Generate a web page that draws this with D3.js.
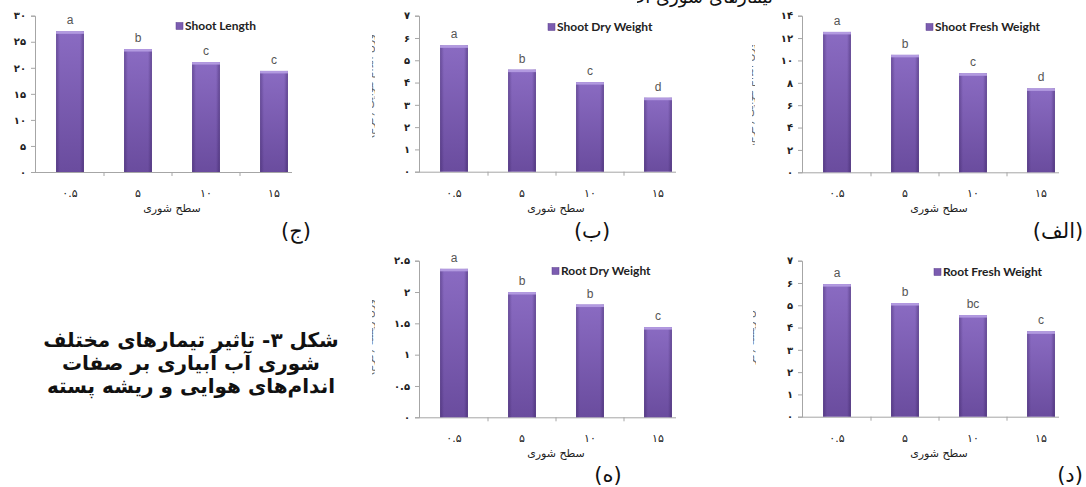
<!DOCTYPE html>
<html>
<head>
<meta charset="utf-8">
<script src="https://cdn.jsdelivr.net/npm/d3@7"></script>
<style>
  html, body { margin: 0; padding: 0; background: #fff; }
  svg { display: block; }
</style>
</head>
<body>
<svg id="fig" width="1086" height="487"></svg>
<script>
// Salinity levels of irrigation water (x categories)
const categories = ["۰.۵", "۵", "۱۰", "۱۵"];

// Shoot fresh weight
const shootFresh = [12.55, 10.5, 8.85, 7.5];
const shootFreshLetters = ["a", "b", "c", "d"];
const shootFreshTicks = [0, 2, 4, 6, 8, 10, 12, 14];

// Shoot dry weight
const shootDry = [5.67, 4.58, 4.02, 3.32];
const shootDryLetters = ["a", "b", "c", "d"];
const shootDryTicks = [0, 1, 2, 3, 4, 5, 6, 7];

// Shoot length
const shootLength = [27.0, 23.6, 21.1, 19.4];
const shootLengthLetters = ["a", "b", "c", "c"];
const shootLengthTicks = [0, 5, 10, 15, 20, 25, 30];

// Root fresh weight
const rootFresh = [5.95, 5.1, 4.56, 3.83];
const rootFreshLetters = ["a", "b", "bc", "c"];
const rootFreshTicks = [0, 1, 2, 3, 4, 5, 6, 7];

// Root dry weight
const rootDry = [2.37, 2.0, 1.8, 1.44];
const rootDryLetters = ["a", "b", "b", "c"];
const rootDryTicks = [0, 0.5, 1, 1.5, 2, 2.5];

const faDigits = "۰۱۲۳۴۵۶۷۸۹";
const toFa = n => String(n).replace(/\d/g, d => faDigits[+d]);

const svg = d3.select("#fig");
const defs = svg.append("defs");

// bar shading: vertical body gradient plus darker side edges
const vg = defs.append("linearGradient").attr("id", "barBody")
  .attr("x1", 0).attr("y1", 0).attr("x2", 0).attr("y2", 1);
vg.append("stop").attr("offset", "0%").attr("stop-color", "#8a6bc2");
vg.append("stop").attr("offset", "100%").attr("stop-color", "#6a4c9e");

const hg = defs.append("linearGradient").attr("id", "barEdge")
  .attr("x1", 0).attr("y1", 0).attr("x2", 1).attr("y2", 0);
hg.append("stop").attr("offset", "0%").attr("stop-color", "#2a1550").attr("stop-opacity", 0.35);
hg.append("stop").attr("offset", "14%").attr("stop-color", "#2a1550").attr("stop-opacity", 0.0);
hg.append("stop").attr("offset", "86%").attr("stop-color", "#2a1550").attr("stop-opacity", 0.0);
hg.append("stop").attr("offset", "100%").attr("stop-color", "#2a1550").attr("stop-opacity", 0.4);

const panels = [
  { values: shootLength, letters: shootLengthLetters, ticks: shootLengthTicks, name: "Shoot Length",
    x0: 36, yBottom: 172, yTop: 15.7, legendX: 176, legendY: 26, tag: "(ج)", tagX: 296, tagY: 238 },
  { values: shootDry, letters: shootDryLetters, ticks: shootDryTicks, name: "Shoot Dry Weight",
    x0: 420, yBottom: 171.7, yTop: 15.7, legendX: 548, legendY: 27, tag: "(ب)", tagX: 592, tagY: 238,
    cutTitle: { x: 372, y1: 28, y2: 145 } },
  { values: shootFresh, letters: shootFreshLetters, ticks: shootFreshTicks, name: "Shoot Fresh Weight",
    x0: 803, yBottom: 172.3, yTop: 15.7, legendX: 926, legendY: 27, tag: "(الف)", tagX: 1058, tagY: 238,
    cutTitle: { x: 752, y1: 45, y2: 145 } },
  { values: rootDry, letters: rootDryLetters, ticks: rootDryTicks, name: "Root Dry Weight",
    x0: 420, yBottom: 417.3, yTop: 260.7, legendX: 552, legendY: 271, tag: "(ه)", tagX: 608, tagY: 482,
    cutTitle: { x: 372, y1: 300, y2: 375 } },
  { values: rootFresh, letters: rootFreshLetters, ticks: rootFreshTicks, name: "Root Fresh Weight",
    x0: 803, yBottom: 416.7, yTop: 260.7, legendX: 934, legendY: 272, tag: "(د)", tagX: 1070, tagY: 482,
    cutTitle: { x: 753, y1: 310, y2: 365 } }
];

const axisColor = "#a6a6a6";
const faFont = "'DejaVu Sans', sans-serif";

panels.forEach((p, pi) => {
  const g = svg.append("g");
  const step = 68;
  const x = d3.scaleBand()
    .domain(categories)
    .range([p.x0, p.x0 + step * 4])
    .paddingInner(0.59)
    .paddingOuter(0.295);
  const yMax = p.ticks[p.ticks.length - 1];
  const y = d3.scaleLinear().domain([0, yMax]).range([p.yBottom, p.yTop]);
  const axisX = p.x0 - 1;
  const axisEnd = p.x0 + 256;

  // y axis
  const yAxis = d3.axisLeft(y).tickValues(p.ticks).tickSize(4).tickPadding(5).tickFormat(toFa);
  const ya = g.append("g").attr("transform", `translate(${axisX},0)`).call(yAxis);
  ya.select(".domain").attr("stroke", axisColor);
  ya.selectAll(".tick line").attr("stroke", axisColor);
  ya.selectAll(".tick text")
    .attr("fill", "#222").attr("font-family", faFont)
    .attr("font-size", 10).attr("font-weight", "bold")
    .attr("direction", "ltr");

  // x axis line with separators between categories
  g.append("line")
    .attr("x1", axisX).attr("x2", axisEnd)
    .attr("y1", p.yBottom + 0.5).attr("y2", p.yBottom + 0.5)
    .attr("stroke", axisColor);
  g.selectAll(".sep").data(categories.slice(0, 3)).join("line")
    .attr("x1", d => x(d) + x.bandwidth() / 2 + x.step() / 2)
    .attr("x2", d => x(d) + x.bandwidth() / 2 + x.step() / 2)
    .attr("y1", p.yBottom).attr("y2", p.yBottom + 4)
    .attr("stroke", axisColor);

  // x tick labels
  g.selectAll(".xl").data(categories).join("text")
    .attr("x", d => x(d) + x.bandwidth() / 2)
    .attr("y", p.yBottom + 25)
    .attr("text-anchor", "middle")
    .attr("direction", "ltr")
    .attr("font-family", faFont).attr("font-size", 11)
    .attr("fill", "#222")
    .text(d => d);

  // x axis title
  g.append("text")
    .attr("x", p.x0 + 136).attr("y", p.yBottom + 40)
    .attr("text-anchor", "middle")
    .attr("font-family", faFont).attr("font-size", 11)
    .attr("fill", "#222")
    .text("سطح شوری");

  // bars
  const bars = g.selectAll(".bar").data(p.values.map((v, i) => ({ v, c: categories[i], l: p.letters[i] })))
    .join("g");
  bars.append("rect")
    .attr("x", d => x(d.c)).attr("width", x.bandwidth())
    .attr("y", d => y(d.v)).attr("height", d => y(0) - y(d.v))
    .attr("fill", "url(#barBody)");
  bars.append("rect")
    .attr("x", d => x(d.c)).attr("width", x.bandwidth())
    .attr("y", d => y(d.v)).attr("height", d => y(0) - y(d.v))
    .attr("fill", "url(#barEdge)");
  bars.append("rect")
    .attr("x", d => x(d.c)).attr("width", x.bandwidth())
    .attr("y", d => y(d.v)).attr("height", 2.5)
    .attr("fill", "#b29ae0");

  // significance letters
  bars.append("text")
    .attr("x", d => x(d.c) + x.bandwidth() / 2)
    .attr("y", d => y(d.v) - 7)
    .attr("text-anchor", "middle")
    .attr("font-family", "'Liberation Sans', Arial, sans-serif")
    .attr("font-size", 12)
    .attr("fill", "#555")
    .text(d => d.l);

  // legend
  g.append("rect")
    .attr("x", p.legendX).attr("y", p.legendY - 3.5)
    .attr("width", 7).attr("height", 7)
    .attr("fill", "#7b5cb0").attr("stroke", "#5a3f8c").attr("stroke-width", 0.5);
  g.append("text")
    .attr("x", p.legendX + 9).attr("y", p.legendY + 4)
    .attr("font-family", "Lato, 'Open Sans', sans-serif")
    .attr("font-weight", "bold").attr("font-size", 12)
    .attr("fill", "#222")
    .text(p.name);

  // panel tag
  g.append("text")
    .attr("x", p.tagX).attr("y", p.tagY)
    .attr("text-anchor", "middle")
    .attr("direction", "rtl")
    .attr("font-family", "'DejaVu Sans', serif")
    .attr("font-size", 21)
    .attr("fill", "#111")
    .text(p.tag);

  // y-axis title, mostly cut off at the left edge of the panel
  if (p.cutTitle) {
    const cid = "cut" + pi;
    defs.append("clipPath").attr("id", cid).append("rect")
      .attr("x", p.cutTitle.x).attr("y", p.cutTitle.y1)
      .attr("width", 3).attr("height", p.cutTitle.y2 - p.cutTitle.y1);
    g.append("g").attr("clip-path", `url(#${cid})`)
      .append("text")
      .attr("transform", `translate(${p.cutTitle.x + 1},${(p.cutTitle.y1 + p.cutTitle.y2) / 2}) rotate(-90)`)
      .attr("text-anchor", "middle")
      .attr("font-family", faFont).attr("font-size", 11)
      .attr("fill", "#666")
      .text(pi >= 3 ? "وزن ریشه (گرم)" : "وزن اندام هوایی (گرم)");
  }
});

// figure caption
const caption = [
  "شکل ۳- تاثیر تیمارهای مختلف",
  "شوری آب آبیاری بر صفات",
  "اندام‌های هوایی و ریشه پسته"
];
svg.append("g").selectAll("text").data(caption).join("text")
  .attr("x", 191)
  .attr("y", (d, i) => 347 + i * 23)
  .attr("text-anchor", "middle")
  .attr("direction", "rtl")
  .attr("font-family", faFont)
  .attr("font-weight", "bold")
  .attr("font-size", 20)
  .attr("fill", "#111")
  .text(d => d);

// running text above the figure, clipped at the page top
defs.append("clipPath").attr("id", "topClip").append("rect")
  .attr("x", 637).attr("y", 0).attr("width", 136).attr("height", 12);
svg.append("g").attr("clip-path", "url(#topClip)")
  .append("text")
  .attr("x", 773).attr("y", 3)
  .attr("text-anchor", "start")
  .attr("direction", "rtl")
  .attr("font-family", faFont)
  .attr("font-size", 18)
  .attr("fill", "#111")
  .text("تیمارهای شوری آب آبیاری");
</script>
</body>
</html>
